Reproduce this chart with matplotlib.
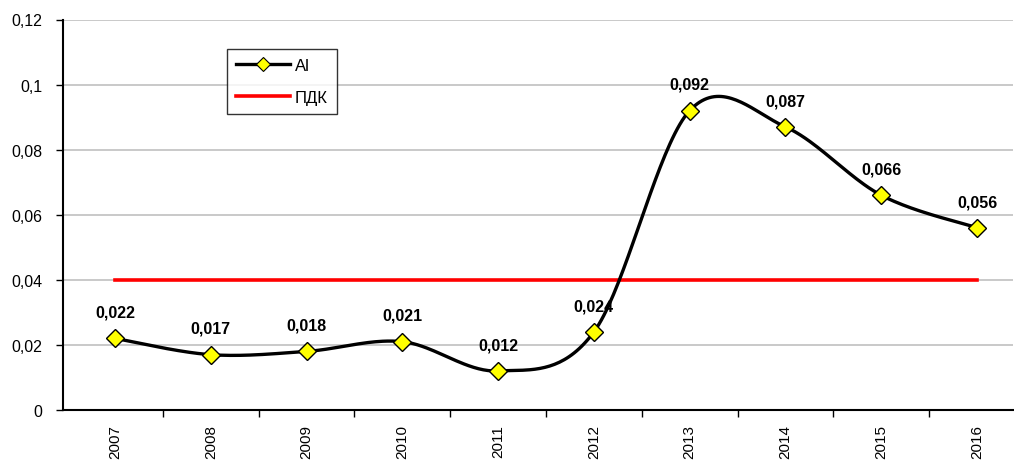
import numpy as np
import matplotlib
matplotlib.use("Agg")
import matplotlib.pyplot as plt
from matplotlib.ticker import FixedLocator, FuncFormatter
from matplotlib.lines import Line2D

years = ["2007", "2008", "2009", "2010", "2011", "2012", "2013", "2014", "2015", "2016"]
al_values = [0.022, 0.017, 0.018, 0.021, 0.012, 0.024, 0.092, 0.087, 0.066, 0.056]
pdk_values = [0.04] * 10
label_texts = ["0,022", "0,017", "0,018", "0,021", "0,012", "0,024", "0,092", "0,087", "0,066", "0,056"]
y_ticks = [0, 0.02, 0.04, 0.06, 0.08, 0.1, 0.12]

plt.rcParams['font.family'] = ['Liberation Sans', 'DejaVu Sans']

def smooth(xs, ys, n=40):
    """Catmull-Rom style Bezier smoothing (like Excel smoothed lines)."""
    xs = np.asarray(xs, float); ys = np.asarray(ys, float)
    px = np.concatenate([[xs[0]], xs, [xs[-1]]])
    py = np.concatenate([[ys[0]], ys, [ys[-1]]])
    outx, outy = [], []
    for i in range(1, len(px) - 2):
        p0 = np.array([px[i - 1], py[i - 1]]); p1 = np.array([px[i], py[i]])
        p2 = np.array([px[i + 1], py[i + 1]]); p3 = np.array([px[i + 2], py[i + 2]])
        c1 = p1 + (p2 - p0) / 6.0
        c2 = p2 - (p3 - p1) / 6.0
        t = np.linspace(0, 1, n)[:, None]
        b = (1 - t) ** 3 * p1 + 3 * (1 - t) ** 2 * t * c1 + 3 * (1 - t) * t ** 2 * c2 + t ** 3 * p2
        outx.extend(b[:, 0]); outy.extend(b[:, 1])
    return np.array(outx), np.array(outy)

fig = plt.figure(figsize=(10.14, 4.64), dpi=100)
ax_l, ax_r, ax_b, ax_t = 63, 1013, 411, 20.5
ax = fig.add_axes([ax_l / 1014, 1 - ax_b / 464, (ax_r - ax_l) / 1014, (ax_b - ax_t) / 464])

x = np.arange(len(years))
sx, sy = smooth(x, al_values)
ax.plot(sx, sy, color='black', lw=2.4, zorder=3, solid_capstyle='round')
ax.plot(x, al_values, ls='none', marker='D', ms=9, mfc='#ffff00', mec='black', mew=1, zorder=4)
ax.plot(x, pdk_values, color='#ff0000', lw=2.6, zorder=2)

h1 = Line2D([], [], color='black', lw=2.4, marker='D', ms=7, mfc='#ffff00', mec='black', mew=0.8)
h2 = Line2D([], [], color='#ff0000', lw=2.6)
leg = ax.legend([h1, h2], ["Al", "ПДК"], loc='upper left',
                bbox_to_anchor=((227 - ax_l) / (ax_r - ax_l), 1 - (50 - ax_t) / (ax_b - ax_t)),
                frameon=True, fancybox=False, edgecolor='black', fontsize=12, handlelength=3.2,
                handletextpad=0.3, borderpad=0.55, labelspacing=1.0, borderaxespad=0)
leg.get_frame().set_linewidth(1.0)

for xi, v, t in zip(x, al_values, label_texts):
    ax.annotate(t, (xi, v), xytext=(0, 13.5), textcoords='offset points', ha='center', va='bottom',
                fontsize=11.5, fontweight='bold', zorder=5)

ppu = (977 - 115) / 9.0
ax.set_ylim(0, 0.12)
ax.set_xlim(-(115 - ax_l) / ppu, 9 + (ax_r - 977) / ppu)
ax.yaxis.set_major_locator(FixedLocator(y_ticks))
ax.yaxis.set_major_formatter(FuncFormatter(lambda v, p: ("%g" % round(v, 4)).replace('.', ',')))
ax.grid(axis='y', color='#c0c0c0', lw=1.2, zorder=0)
ax.set_axisbelow(True)

ax.set_xticks(x)
ax.set_xticklabels(years, rotation=90, fontsize=11)
ax.set_xticks(np.arange(0.5, 9, 1), minor=True)
ax.tick_params(axis='x', which='major', length=0, pad=10)
ax.tick_params(axis='x', which='minor', length=5, width=1, direction='out')
ax.tick_params(axis='y', length=5, width=1, direction='out', labelsize=11.5, pad=10)

for s in ['top', 'right']:
    ax.spines[s].set_visible(False)
for s in ['left', 'bottom']:
    ax.spines[s].set_linewidth(1.5)
    ax.spines[s].set_color('black')

fig.savefig('out.png', dpi=100, facecolor='white')
